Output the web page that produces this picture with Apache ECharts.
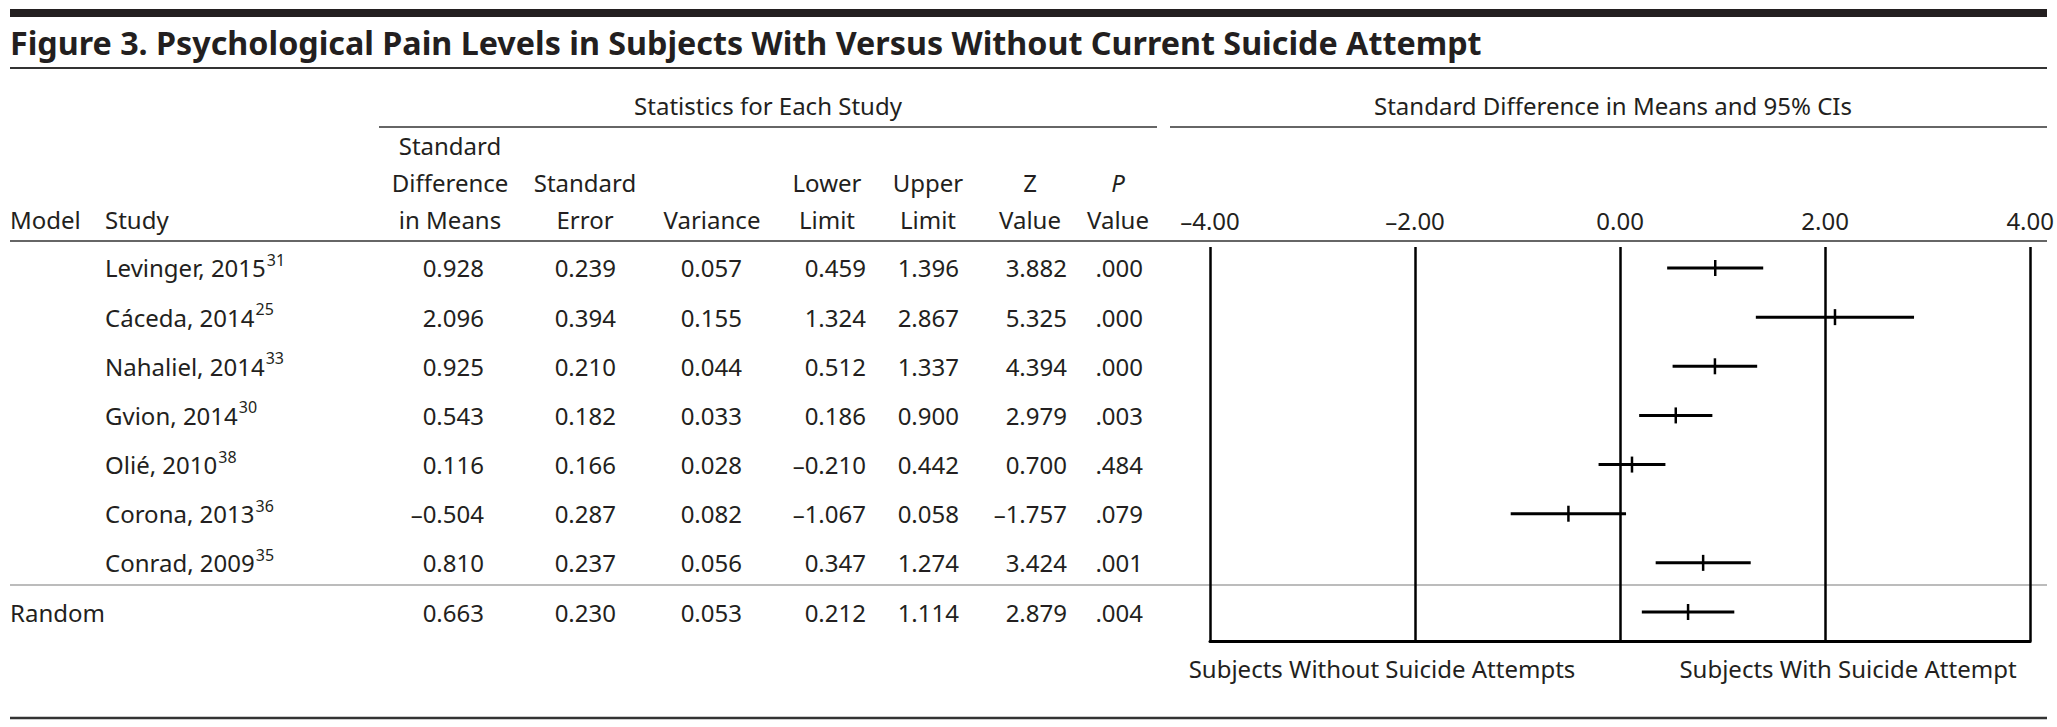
<!DOCTYPE html>
<html>
<head>
<meta charset="utf-8">
<script src="https://cdn.jsdelivr.net/npm/echarts@6/dist/echarts.min.js"></script>
<style>
html,body{margin:0;padding:0;background:#fff;}
#c{width:2057px;height:727px;}
</style>
</head>
<body>
<div id="c"></div>
<script>
// ---------------- DATA ----------------
const studies   = ['Levinger, 2015', 'Cáceda, 2014', 'Nahaliel, 2014', 'Gvion, 2014', 'Olié, 2010', 'Corona, 2013', 'Conrad, 2009', ''];
const refs      = ['31', '25', '33', '30', '38', '36', '35', ''];
const models    = ['', '', '', '', '', '', '', 'Random'];
const stdDiff   = [0.928, 2.096, 0.925, 0.543, 0.116, -0.504, 0.810, 0.663];
const stdErr    = [0.239, 0.394, 0.210, 0.182, 0.166, 0.287, 0.237, 0.230];
const variance  = [0.057, 0.155, 0.044, 0.033, 0.028, 0.082, 0.056, 0.053];
const lowerLim  = [0.459, 1.324, 0.512, 0.186, -0.210, -1.067, 0.347, 0.212];
const upperLim  = [1.396, 2.867, 1.337, 0.900, 0.442, 0.058, 1.274, 1.114];
const zValue    = [3.882, 5.325, 4.394, 2.979, 0.700, -1.757, 3.424, 2.879];
const pValue    = ['.000', '.000', '.000', '.003', '.484', '.079', '.001', '.004'];
const xTicks    = [-4, -2, 0, 2, 4];
const titleText = 'Figure 3. Psychological Pain Levels in Subjects With Versus Without Current Suicide Attempt';
const groupHeads = ['Statistics for Each Study', 'Standard Difference in Means and 95% CIs'];
const colHeads  = [['Standard', 'Difference', 'in Means'], ['Standard', 'Error'], ['Variance'], ['Lower', 'Limit'], ['Upper', 'Limit'], ['Z', 'Value'], ['P', 'Value']];
const sideLabels = ['Subjects Without Suicide Attempts', 'Subjects With Suicide Attempt'];

// ---------------- LAYOUT / STYLE ----------------
const FONT = '"Noto Sans", "Open Sans", sans-serif';
const INK = '#231f20';
const RULE = '#333333';
const FS = 24;
const colRight  = [484, 616, 742, 866, 959, 1067, 1143];
const colCenter = [450, 585, 712, 827, 928, 1030, 1118];
const headRowY  = [145, 182, 219];

const ctx = document.createElement('canvas').getContext('2d');
function measure(text, size, weight) {
  ctx.font = (weight || 'normal') + ' ' + size + 'px "Noto Sans"';
  return ctx.measureText(text).width;
}
const titleSize = Math.min(40, 30 * 1472 / measure(titleText, 30, 'bold'));

const fmt = v => (v < 0 ? '\u2013' : '') + Math.abs(v).toFixed(3);
const columns = [stdDiff.map(fmt), stdErr.map(fmt), variance.map(fmt), lowerLim.map(fmt), upperLim.map(fmt), zValue.map(fmt), pValue];

function txt(text, x, y, opt) {
  opt = opt || {};
  return {
    type: 'text', x: x, y: y, silent: true, z: 10,
    style: {
      text: text, fontSize: opt.size || FS, fontFamily: FONT,
      fontWeight: opt.weight || 'normal', fontStyle: opt.style || 'normal',
      fill: INK, align: opt.align || 'left', verticalAlign: 'middle'
    }
  };
}
function rule(x1, x2, y, w, color, z) {
  return { type: 'line', silent: true, z: z == null ? 5 : z,
    shape: { x1: x1, y1: y, x2: x2, y2: y },
    style: { stroke: color || RULE, lineWidth: w } };
}

const graphics = [];
graphics.push({ type: 'rect', silent: true, shape: { x: 10, y: 9, width: 2037, height: 8 }, style: { fill: INK } });
graphics.push(txt(titleText, 10, 42, { size: titleSize, weight: 'bold' }));
graphics.push(rule(10, 2047, 68, 2));
graphics.push(txt(groupHeads[0], 768, 105, { align: 'center' }));
graphics.push(txt(groupHeads[1], 1613, 105, { align: 'center' }));
graphics.push(rule(379, 1157, 127, 1.6));
graphics.push(rule(1170, 2047, 127, 1.6));
graphics.push(txt('Model', 10, 219));
graphics.push(txt('Study', 105, 219));
colHeads.forEach((lines, c) => {
  const off = 3 - lines.length;
  lines.forEach((t, k) => {
    graphics.push(txt(t, colCenter[c], headRowY[off + k], { align: 'center', style: (c === 6 && k === 0) ? 'italic' : 'normal' }));
  });
});
graphics.push(rule(10, 2047, 241, 1.6));
graphics.push(rule(10, 2047, 585, 2, '#bcbcbc', 0));
graphics.push(txt(sideLabels[0], 1382, 668, { align: 'center' }));
graphics.push(txt(sideLabels[1], 1848, 668, { align: 'center' }));
graphics.push(rule(10, 2047, 718, 2.5));

const rows = studies.map((s, i) => i);

const chart = echarts.init(document.getElementById('c'), null, { renderer: 'svg' });
chart.setOption({
  animation: false,
  backgroundColor: '#fff',
  graphic: graphics,
  grid: { left: 1210, right: 25, top: 247, bottom: 86, containLabel: false },
  xAxis: [
    {
      type: 'value', min: -4, max: 4, interval: 2, position: 'top',
      axisLine: { show: false }, axisTick: { show: false },
      axisLabel: {
        show: true, margin: 27, verticalAlign: 'middle',
        fontSize: FS, fontFamily: FONT, color: INK,
        formatter: v => (v < 0 ? '\u2013' : '') + Math.abs(v).toFixed(2)
      },
      splitLine: { show: true, showMinLine: true, showMaxLine: true, lineStyle: { color: '#000', width: 2.5 } }
    },
    {
      type: 'value', min: -4, max: 4, interval: 2, position: 'bottom',
      axisLine: { show: true, onZero: false, lineStyle: { color: '#000', width: 3 } },
      axisTick: { show: false }, axisLabel: { show: false }, splitLine: { show: false }
    }
  ],
  yAxis: { type: 'value', inverse: true, min: -0.4273, max: 7.590, show: false, splitLine: { show: false } },
  series: [
    {
      type: 'custom', name: 'forest', xAxisIndex: 0, yAxisIndex: 0, clip: false, z: 5,
      data: rows.map(i => [lowerLim[i], i, upperLim[i], stdDiff[i]]),
      encode: { x: [0, 2, 3], y: 1 },
      renderItem: function (params, api) {
        const lo = api.coord([api.value(0), api.value(1)]);
        const hi = api.coord([api.value(2), api.value(1)]);
        const m = api.coord([api.value(3), api.value(1)]);
        return {
          type: 'group',
          children: [
            { type: 'line', shape: { x1: lo[0], y1: lo[1], x2: hi[0], y2: hi[1] }, style: { stroke: '#000', lineWidth: 3 } },
            { type: 'line', shape: { x1: m[0], y1: m[1] - 8, x2: m[0], y2: m[1] + 8 }, style: { stroke: '#000', lineWidth: 2.5 } }
          ]
        };
      }
    },
    {
      type: 'custom', name: 'table', xAxisIndex: 0, yAxisIndex: 0, clip: false, z: 6, silent: true,
      data: rows.map(i => [0, i]),
      encode: { x: 0, y: 1 },
      renderItem: function (params, api) {
        const i = api.value(1);
        const y = api.coord([0, i])[1];
        const style = (text, x, align, size) => ({
          type: 'text',
          style: { text: text, x: x, y: y, fontSize: size || FS, fontFamily: FONT, fill: INK, align: align, verticalAlign: 'middle' }
        });
        const children = [];
        if (models[i]) children.push(style(models[i], 10, 'left'));
        if (studies[i]) {
          children.push(style(studies[i], 105, 'left'));
          const w = measure(studies[i], FS);
          const sup = style(refs[i], 105 + w + 1, 'left', 16);
          sup.style.y = y - 8;
          children.push(sup);
        }
        columns.forEach((vals, c) => children.push(style(vals[i], colRight[c], 'right')));
        return { type: 'group', children: children };
      }
    }
  ]
});
</script>
</body>
</html>
